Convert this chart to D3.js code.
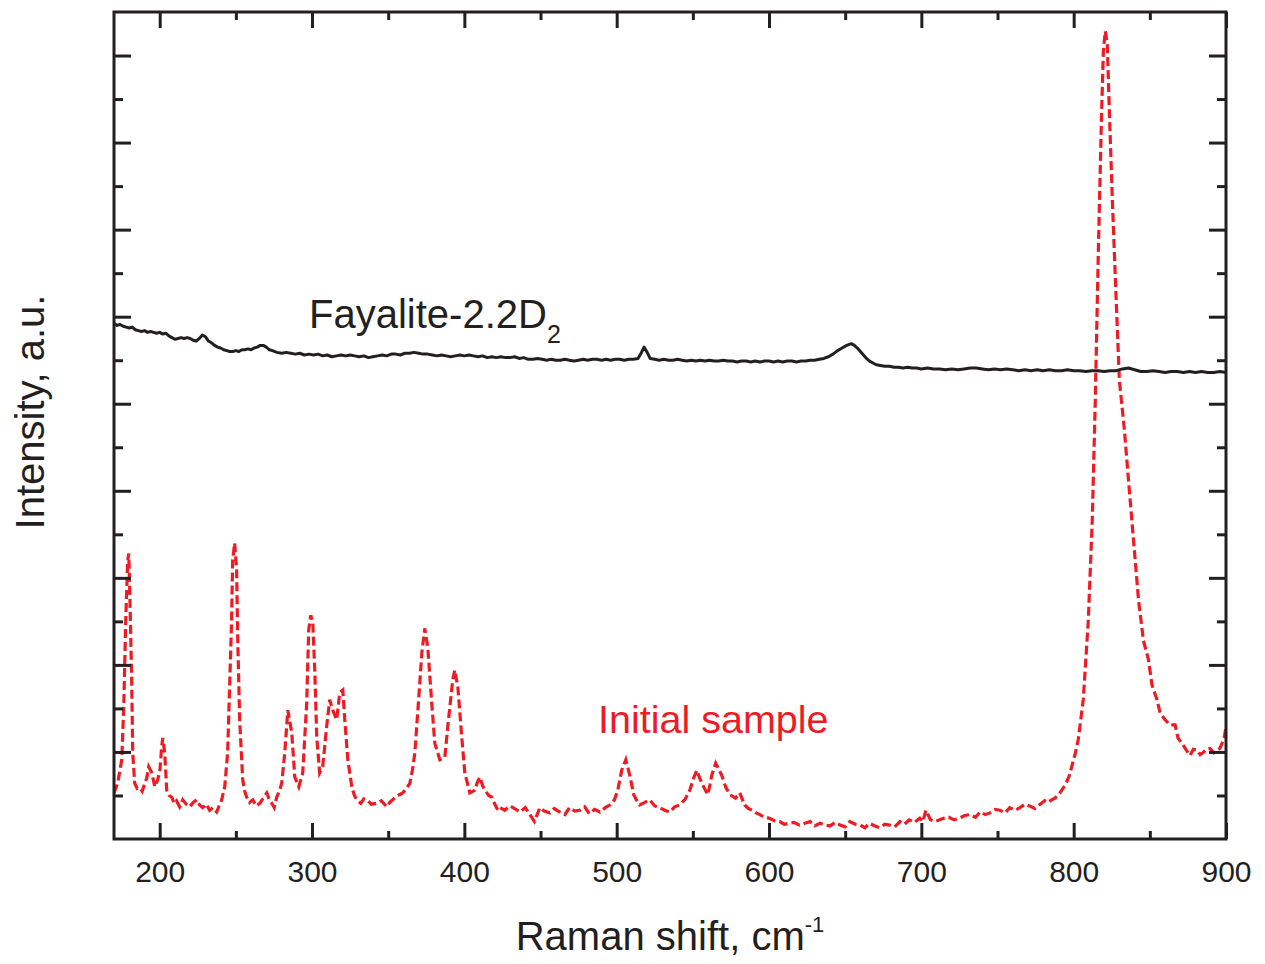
<!DOCTYPE html>
<html>
<head>
<meta charset="utf-8">
<script src="https://cdn.jsdelivr.net/npm/d3@7"></script>
<style>
  html, body { margin: 0; padding: 0; background: #fff; }
  svg { display: block; font-family: "Liberation Sans", Arial, Helvetica, sans-serif; }
</style>
</head>
<body>
<svg id="chart" width="1265" height="964"></svg>
<script>
// Raman spectra: x = Raman shift (cm-1), y = intensity (arbitrary units, offset traces)
const xTickLabels = [200, 300, 400, 500, 600, 700, 800, 900];
const xMinorTicks = [250, 350, 450, 550, 650, 750, 850];
const yMajorTicks = [1, 2, 3, 4, 5, 6, 7, 8, 9];
const yMinorTicks = [0.5, 1.5, 2.5, 3.5, 4.5, 5.5, 6.5, 7.5, 8.5];

const seriesNames = ["Initial sample", "Fayalite-2.2D"];

// Initial sample (red, dashed)
const initialSample = [
[170,0.53],[172.4,0.64],[175.1,0.91],[176.4,1.52],[177.7,2.51],[179.0,3.20],[179.7,3.28],[180.3,2.89],[181.6,1.83],[182.3,0.99],
[183.6,0.64],[185.2,0.58],[186.9,0.59],[188.5,0.55],[190.2,0.64],[191.5,0.70],[192.8,0.83],[194.8,0.76],[196.8,0.60],[198.7,0.68],
[200.2,0.80],[201.3,1.06],[202.0,1.16],[203.3,0.99],[204.6,0.56],[206.2,0.50],[207.9,0.48],[209.5,0.41],[211.0,0.44],[213.1,0.37],
[215.1,0.45],[217.4,0.40],[219.7,0.37],[222.0,0.42],[224.3,0.45],[226.2,0.39],[228.2,0.36],[230.5,0.40],[232.8,0.33],[235.0,0.36],
[237.4,0.31],[239.0,0.38],[240.7,0.45],[242.7,0.60],[244.6,0.99],[245.9,1.75],[247.2,2.51],[247.9,3.20],[249.2,3.40],[250.5,3.09],
[251.2,2.32],[252.5,1.37],[254.5,0.68],[255.8,0.55],[257.1,0.48],[259.0,0.42],[261.1,0.45],[263.4,0.38],[265.7,0.41],[268.0,0.47],
[270.3,0.53],[272.0,0.45],[273.6,0.41],[275.2,0.36],[276.8,0.48],[278.5,0.55],[280.1,0.64],[282.1,0.99],[284.1,1.48],[286.7,1.22],
[288.7,0.71],[291.3,0.60],[293.9,0.76],[296.5,1.56],[297.8,2.40],[299.2,2.57],[300.5,2.48],[301.8,1.94],[303.1,1.17],[305.0,0.76],
[307.0,0.83],[309.6,1.29],[311.6,1.60],[313.6,1.48],[316.2,1.37],[318.2,1.68],[320.2,1.71],[321.5,1.37],[323.5,0.91],[326.1,0.60],
[327.8,0.50],[329.4,0.45],[332.0,0.41],[334.0,0.46],[336.0,0.45],[339.0,0.40],[342.5,0.41],[345.5,0.44],[349.1,0.37],[351.0,0.42],
[353.0,0.45],[356.3,0.50],[359.6,0.53],[362.0,0.58],[364.2,0.64],[366.0,0.80],[367.5,0.99],[370.1,1.63],[372.1,2.14],[374.0,2.42],
[376.0,2.20],[378.6,1.56],[380.6,1.10],[383.9,0.91],[387.2,0.94],[389.1,1.29],[392.4,1.83],[393.7,1.94],[395.7,1.75],[398.3,1.17],
[400.3,0.76],[403.6,0.53],[406.9,0.56],[408.5,0.65],[410.2,0.71],[411.8,0.62],[413.4,0.56],[416.0,0.50],[418.0,0.48],[420.0,0.40],
[422.0,0.33],[423.5,0.36],[426.5,0.33],[430,0.38],[433,0.35],[436.5,0.31],[440,0.36],[443,0.28],[446,0.20],[449.6,0.36],
[452.5,0.32],[456,0.30],[459,0.35],[462.7,0.31],[466,0.28],[469,0.36],[472.5,0.32],[475.8,0.33],[479,0.37],[482,0.29],
[485.5,0.34],[489,0.31],[492.5,0.36],[495.5,0.39],[498.5,0.45],[500.7,0.56],[503.3,0.79],[506,0.91],[508.6,0.73],[511.2,0.51],
[513.5,0.43],[515.1,0.39],[518.5,0.42],[521.7,0.45],[525,0.38],[528.3,0.36],[531.5,0.33],[534.8,0.31],[538,0.37],[541.4,0.39],
[545,0.46],[548,0.56],[550.5,0.70],[552.6,0.79],[554.5,0.70],[556.5,0.62],[559.8,0.51],[561.2,0.62],[562.4,0.73],[565,0.87],
[567,0.80],[569,0.73],[571.5,0.60],[574.2,0.51],[578,0.47],[580.8,0.53],[584,0.39],[586.5,0.35],[589,0.33],[591.5,0.30],
[594,0.28],[597,0.25],[600,0.24],[603.5,0.21],[607,0.20],[610,0.17],[613,0.18],[616.5,0.19],[620,0.16],[623.5,0.18],
[627,0.20],[630,0.15],[633.5,0.18],[637,0.16],[640,0.15],[643.5,0.19],[646.6,0.16],[650,0.14],[653,0.20],[656.5,0.17],
[659.8,0.16],[663,0.13],[666,0.18],[669.5,0.15],[672.9,0.13],[676,0.17],[679,0.16],[682.5,0.14],[686,0.20],[689,0.17],
[692,0.22],[695.5,0.19],[699,0.24],[701,0.20],[703,0.33],[706,0.22],[709,0.20],[712,0.22],[715,0.24],[718,0.25],
[721.5,0.22],[725,0.24],[728.5,0.27],[732,0.28],[735.5,0.25],[738.6,0.31],[742,0.28],[745,0.30],[748.5,0.34],[751.6,0.33],
[755,0.30],[758,0.36],[761.5,0.33],[764.8,0.36],[768,0.40],[771,0.38],[774.5,0.35],[778,0.40],[781,0.44],[783,0.42],
[785.5,0.45],[787.8,0.47],[791,0.53],[794.4,0.62],[797,0.72],[799,0.85],[801,0.98],[803,1.14],[806.3,1.60],[809.6,2.51],
[812.2,3.66],[814.2,5.04],[816.2,6.76],[818.2,8.25],[819.5,9.06],[820.8,9.28],[822.1,9.12],[823.4,8.37],[825.4,7.34],[827.4,6.42],
[830,5.27],[833.3,4.70],[836,4.12],[839.3,3.43],[842.6,2.74],[845.8,2.28],[849.1,2.06],[851.4,1.77],[854.7,1.60],[856.7,1.45],
[860.0,1.37],[863.3,1.31],[866.6,1.31],[868.5,1.16],[871.8,1.08],[874,1.02],[876.4,0.96],[878.5,1.03],[881.0,1.02],[883,0.97],
[884.9,0.99],[887,1.03],[889.5,1.04],[892,0.99],[894.1,1.02],[896,1.04],[897.4,1.10],[899,1.18],[900,1.29]
];

// Fayalite-2.2D2 (black, solid)
const fayaliteD2 = [
[170,5.92],[172,5.90],[174,5.91],[176,5.89],[178,5.88],[180,5.87],[182,5.88],[184,5.85],[186,5.84],[188,5.83],
[190,5.84],[192,5.82],[194,5.83],[196,5.82],[198,5.81],[200,5.82],[202,5.80],[204,5.81],[206,5.78],[208,5.76],
[210,5.74],[212,5.75],[214,5.76],[216,5.75],[218,5.76],[220,5.75],[222,5.73],[224,5.72],[226,5.75],[228,5.79],
[230,5.77],[232,5.72],[234,5.70],[236,5.67],[238,5.65],[240,5.64],[242,5.62],[244,5.61],[246,5.60],[248,5.60],
[250,5.61],[252,5.60],[254,5.62],[256,5.62],[258,5.63],[260,5.62],[262,5.64],[264,5.65],[266,5.67],[268,5.67],
[270,5.65],[272,5.62],[274,5.61],[277,5.59],[280,5.58],[283,5.59],[286,5.58],[289,5.57],[292,5.58],[295,5.56],
[298,5.57],[301,5.56],[304,5.57],[307,5.55],[310,5.56],[313,5.54],[316,5.55],[319,5.56],[322,5.55],[325,5.56],
[328,5.55],[331,5.54],[334,5.55],[337,5.53],[340,5.54],[343,5.55],[346,5.56],[349,5.55],[352,5.57],[355,5.57],
[358,5.56],[361,5.58],[364,5.58],[367,5.59],[370,5.58],[373,5.57],[376,5.57],[379,5.56],[382,5.55],[385,5.56],
[388,5.55],[391,5.54],[394,5.55],[397,5.56],[400,5.55],[403,5.56],[406,5.55],[409,5.54],[412,5.55],[415,5.53],
[418,5.54],[421,5.53],[424,5.54],[427,5.53],[430,5.53],[433,5.54],[436,5.52],[439,5.53],[442,5.51],[445,5.51],
[448,5.52],[451,5.51],[454,5.50],[457,5.51],[460,5.50],[463,5.50],[466,5.51],[469,5.50],[472,5.49],[475,5.50],
[478,5.51],[481,5.50],[484,5.51],[487,5.51],[490,5.50],[493,5.51],[496,5.50],[499,5.51],[502,5.51],[505,5.50],
[508,5.51],[511,5.51],[514,5.52],[516,5.58],[518,5.65],[520,5.59],[522,5.52],[525,5.51],[528,5.50],[531,5.51],
[534,5.50],[537,5.50],[540,5.51],[543,5.50],[546,5.49],[549,5.50],[552,5.49],[555,5.50],[558,5.49],[561,5.50],
[564,5.49],[567,5.49],[570,5.50],[573,5.49],[576,5.49],[579,5.48],[582,5.49],[585,5.49],[588,5.48],[591,5.49],
[594,5.48],[597,5.49],[600,5.49],[603,5.48],[606,5.49],[609,5.48],[612,5.49],[615,5.49],[618,5.48],[621,5.49],
[624,5.49],[627,5.50],[630,5.50],[633,5.51],[636,5.52],[639,5.54],[642,5.57],[645,5.61],[648,5.64],[651,5.67],
[654,5.69],[656,5.67],[658,5.64],[660,5.60],[662,5.56],[664,5.52],[666,5.49],[668,5.47],[670,5.45],[673,5.44],
[676,5.43],[679,5.43],[682,5.42],[685,5.42],[688,5.41],[691,5.42],[694,5.41],[697,5.41],[700,5.40],[704,5.41],
[708,5.40],[712,5.40],[716,5.39],[720,5.40],[724,5.39],[728,5.40],[732,5.41],[736,5.41],[740,5.40],[744,5.39],
[748,5.40],[752,5.39],[756,5.40],[760,5.39],[764,5.38],[768,5.39],[772,5.38],[776,5.39],[780,5.38],[784,5.39],
[788,5.38],[792,5.38],[796,5.39],[800,5.38],[804,5.38],[808,5.37],[812,5.38],[816,5.38],[820,5.37],[824,5.38],
[828,5.38],[832,5.40],[836,5.41],[840,5.39],[844,5.37],[848,5.37],[852,5.38],[856,5.37],[860,5.36],[864,5.37],
[868,5.37],[872,5.36],[876,5.37],[880,5.36],[884,5.37],[888,5.36],[892,5.36],[896,5.37],[900,5.36]
];

const ink = "#231f20";
const red = "#ed1c24";
const font = '"Liberation Sans", Arial, Helvetica, sans-serif';

const svg = d3.select("#chart");
const plot = { left: 114, top: 12, right: 1226, bottom: 839 };

const x = d3.scaleLinear().domain([170, 900]).range([plot.left, plot.right]);
const y = d3.scaleLinear().domain([0, 9.5]).range([plot.bottom, plot.top]);

const line = d3.line().x(d => x(d[0])).y(d => y(d[1])).curve(d3.curveLinear);

svg.append("defs").append("clipPath").attr("id", "plotClip")
  .append("rect")
  .attr("x", plot.left).attr("y", plot.top)
  .attr("width", plot.right - plot.left).attr("height", plot.bottom - plot.top);

const traces = svg.append("g").attr("clip-path", "url(#plotClip)");

traces.append("path")
  .datum(initialSample)
  .attr("d", line)
  .attr("fill", "none")
  .attr("stroke", red)
  .attr("stroke-width", 3.2)
  .attr("stroke-dasharray", "9,4");

traces.append("path")
  .datum(fayaliteD2)
  .attr("d", line)
  .attr("fill", "none")
  .attr("stroke", ink)
  .attr("stroke-width", 3)
  .attr("stroke-linejoin", "round");

// Axes: ticks point inward on all four sides
function styleAxis(g) {
  g.select(".domain").remove();
  g.selectAll(".tick line").attr("stroke", ink).attr("stroke-width", 3);
  g.selectAll(".tick text").attr("fill", ink).style("font-family", font);
}

svg.append("g").attr("transform", `translate(0,${plot.bottom})`)
  .call(d3.axisBottom(x).tickValues(xTickLabels).tickSize(-16).tickPadding(22).tickFormat(d3.format("d")))
  .call(styleAxis)
  .call(g => g.selectAll(".tick text").style("font-size", "30px"));

svg.append("g").attr("transform", `translate(0,${plot.bottom})`)
  .call(d3.axisBottom(x).tickValues(xMinorTicks).tickSize(-8).tickFormat(""))
  .call(styleAxis);

svg.append("g").attr("transform", `translate(0,${plot.top})`)
  .call(d3.axisTop(x).tickValues(xTickLabels).tickSize(-16).tickFormat(""))
  .call(styleAxis);

svg.append("g").attr("transform", `translate(0,${plot.top})`)
  .call(d3.axisTop(x).tickValues(xMinorTicks).tickSize(-8).tickFormat(""))
  .call(styleAxis);

svg.append("g").attr("transform", `translate(${plot.left},0)`)
  .call(d3.axisLeft(y).tickValues(yMajorTicks).tickSize(-17).tickFormat(""))
  .call(styleAxis);

svg.append("g").attr("transform", `translate(${plot.left},0)`)
  .call(d3.axisLeft(y).tickValues(yMinorTicks).tickSize(-9).tickFormat(""))
  .call(styleAxis);

svg.append("g").attr("transform", `translate(${plot.right},0)`)
  .call(d3.axisRight(y).tickValues(yMajorTicks).tickSize(-17).tickFormat(""))
  .call(styleAxis);

svg.append("g").attr("transform", `translate(${plot.right},0)`)
  .call(d3.axisRight(y).tickValues(yMinorTicks).tickSize(-9).tickFormat(""))
  .call(styleAxis);

// Frame
svg.append("rect")
  .attr("x", plot.left).attr("y", plot.top)
  .attr("width", plot.right - plot.left).attr("height", plot.bottom - plot.top)
  .attr("fill", "none").attr("stroke", ink).attr("stroke-width", 3);

// Axis titles
const xTitle = svg.append("text")
  .attr("x", 670).attr("y", 950)
  .attr("text-anchor", "middle")
  .attr("fill", ink)
  .style("font-family", font).style("font-size", "40px");
xTitle.append("tspan").text("Raman shift, cm");
xTitle.append("tspan").attr("dy", -18).style("font-size", "22px").text("-1");

svg.append("text")
  .attr("transform", "translate(44,412) rotate(-90)")
  .attr("text-anchor", "middle")
  .attr("fill", ink)
  .style("font-family", font).style("font-size", "40px")
  .text("Intensity, a.u.");

// Trace labels
const fayLabel = svg.append("text")
  .attr("x", 309).attr("y", 328)
  .attr("fill", ink)
  .style("font-family", font).style("font-size", "40px");
fayLabel.append("tspan").text(seriesNames[1]);
fayLabel.append("tspan").attr("dy", 15).style("font-size", "25px").text("2");

svg.append("text")
  .attr("x", 598).attr("y", 733)
  .attr("fill", red)
  .style("font-family", font).style("font-size", "39.5px")
  .text(seriesNames[0]);
</script>
</body>
</html>
